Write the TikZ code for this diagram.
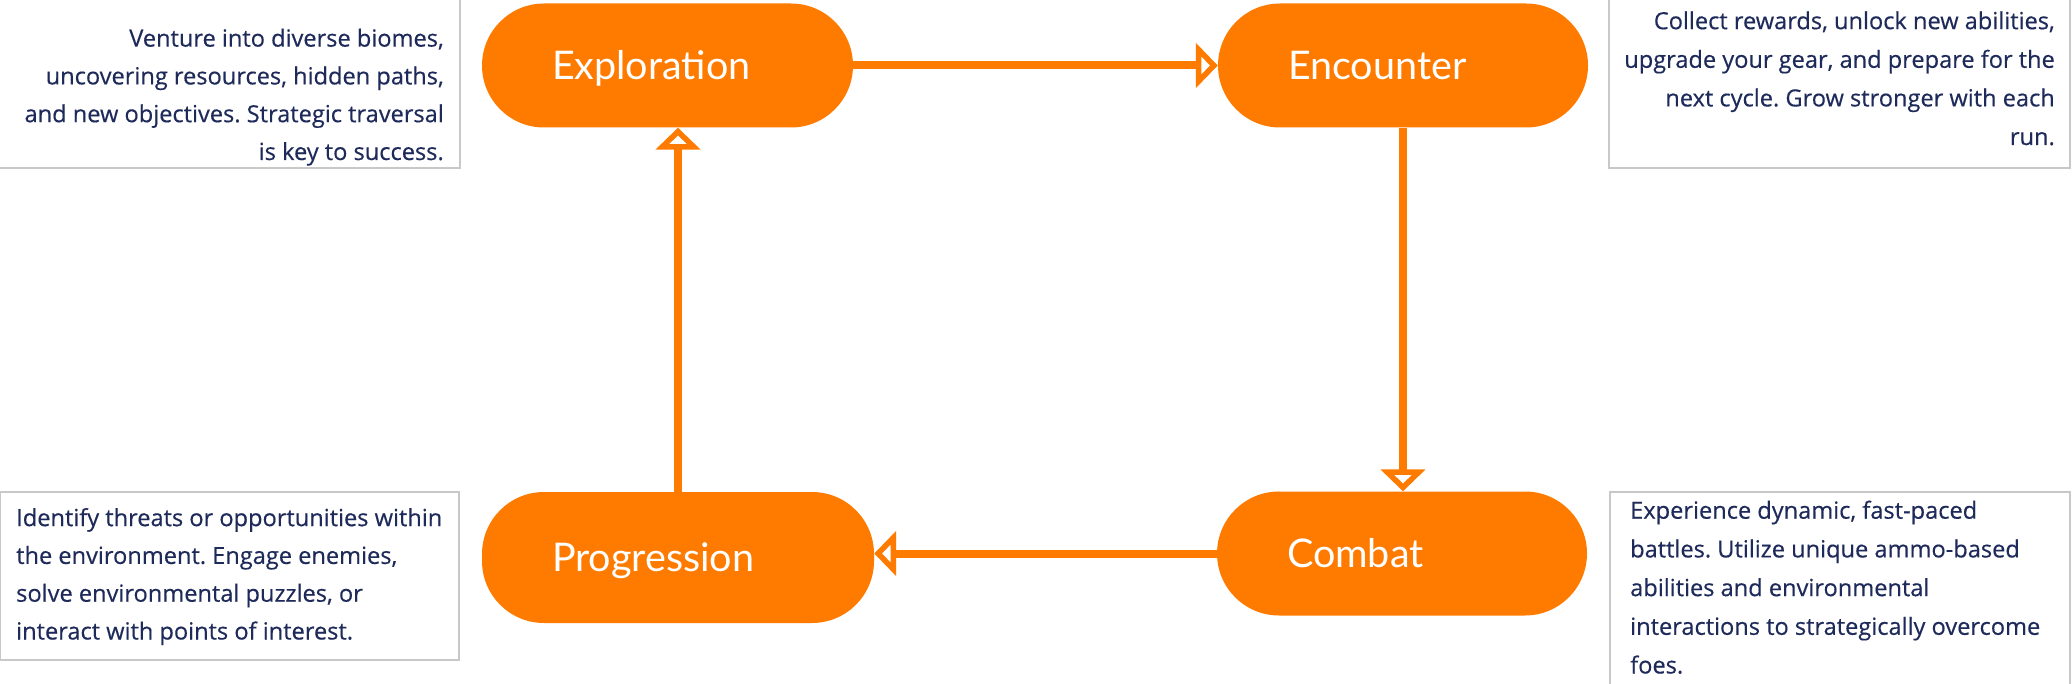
\documentclass[tikz,border=0pt]{standalone}
\usepackage{fontspec}
\setmainfont{Open Sans}[FakeBold=0.4]
\newfontfamily\latofont{Lato}
\usetikzlibrary{arrows.meta}
\definecolor{orng}{HTML}{FF7B00}
\definecolor{navy}{HTML}{1E2A5A}
\definecolor{boxgray}{HTML}{C8C8C8}
\frenchspacing
\tikzset{
  stage/.style={fill=orng, rounded corners=62pt, minimum height=124pt,
    inner xsep=70pt, inner ysep=0pt, text=white, align=left,
    text width=#1, text height=28.5pt, text depth=0pt,
    font=\latofont\fontsize{39.5}{44}\selectfont},
  desc/.style={draw=boxgray, line width=1.5pt},
  desctext/.style={inner sep=0pt, text=navy,
    font=\frenchspacing\fontsize{23.6}{#1}\selectfont},
  desctext/.default=37.8pt,
  flow/.style={draw=orng, line width=8pt,
    -{Triangle[open, length=22pt, width=44pt]}},
}
\begin{document}
\begin{tikzpicture}[x=1pt, y=-1pt]
\useasboundingbox (0,0) rectangle (2072,684);
\clip (0,0) rectangle (2072,684);

% description boxes
\draw[desc] (-3,-40) rectangle (460,168);
\draw[desc] (1609,-40) rectangle (2070,168);
\draw[desc] (0.5,492) rectangle (459,660);
\draw[desc] (1610,492) rectangle (2070,720);

% (base anchor = baseline of the last line)
\node[desctext, align=right, anchor=base east] (tltext) at (444,160)
  {Venture into diverse biomes,\\uncovering resources, hidden paths,\\and new objectives. Strategic traversal\\is key to success.};
\node[desctext=38.6pt, align=right, anchor=base east] (trtext) at (2055,145)
  {Collect rewards, unlock new abilities,\\upgrade your gear, and prepare for the\\next cycle. Grow stronger with each\\run.};
\node[desctext, align=left, anchor=base west] (bltext) at (16,639.5)
  {Identify threats or opportunities within\\the environment. Engage enemies,\\solve environmental puzzles, or\\interact with points of interest.};
\node[desctext=38.7pt, align=left, anchor=base west] (brtext) at (1630,673.5)
  {Experience dynamic, fast-paced\\battles. Utilize unique ammo-based\\abilities and environmental\\interactions to strategically overcome\\foes.};

% stages
\node[stage=231pt] (expl) at (667.5,65.5) {Exploration};
\node[stage=230pt] (enc) at (1403,65.5) {Encounter};
\node[stage=252pt, minimum height=131pt] (prog) at (678,557.5) {Progression};
\node[stage=230pt] (comb) at (1402,553.5) {Combat};

% connectors
\draw[flow] (expl.east) -- (enc.west);
\draw[flow] (enc.south) -- (enc.south |- comb.north);
\draw[flow] (comb.west) -- (comb.west -| prog.east);
\draw[flow] (prog.north) -- (prog.north |- expl.south);
\end{tikzpicture}
\end{document}
